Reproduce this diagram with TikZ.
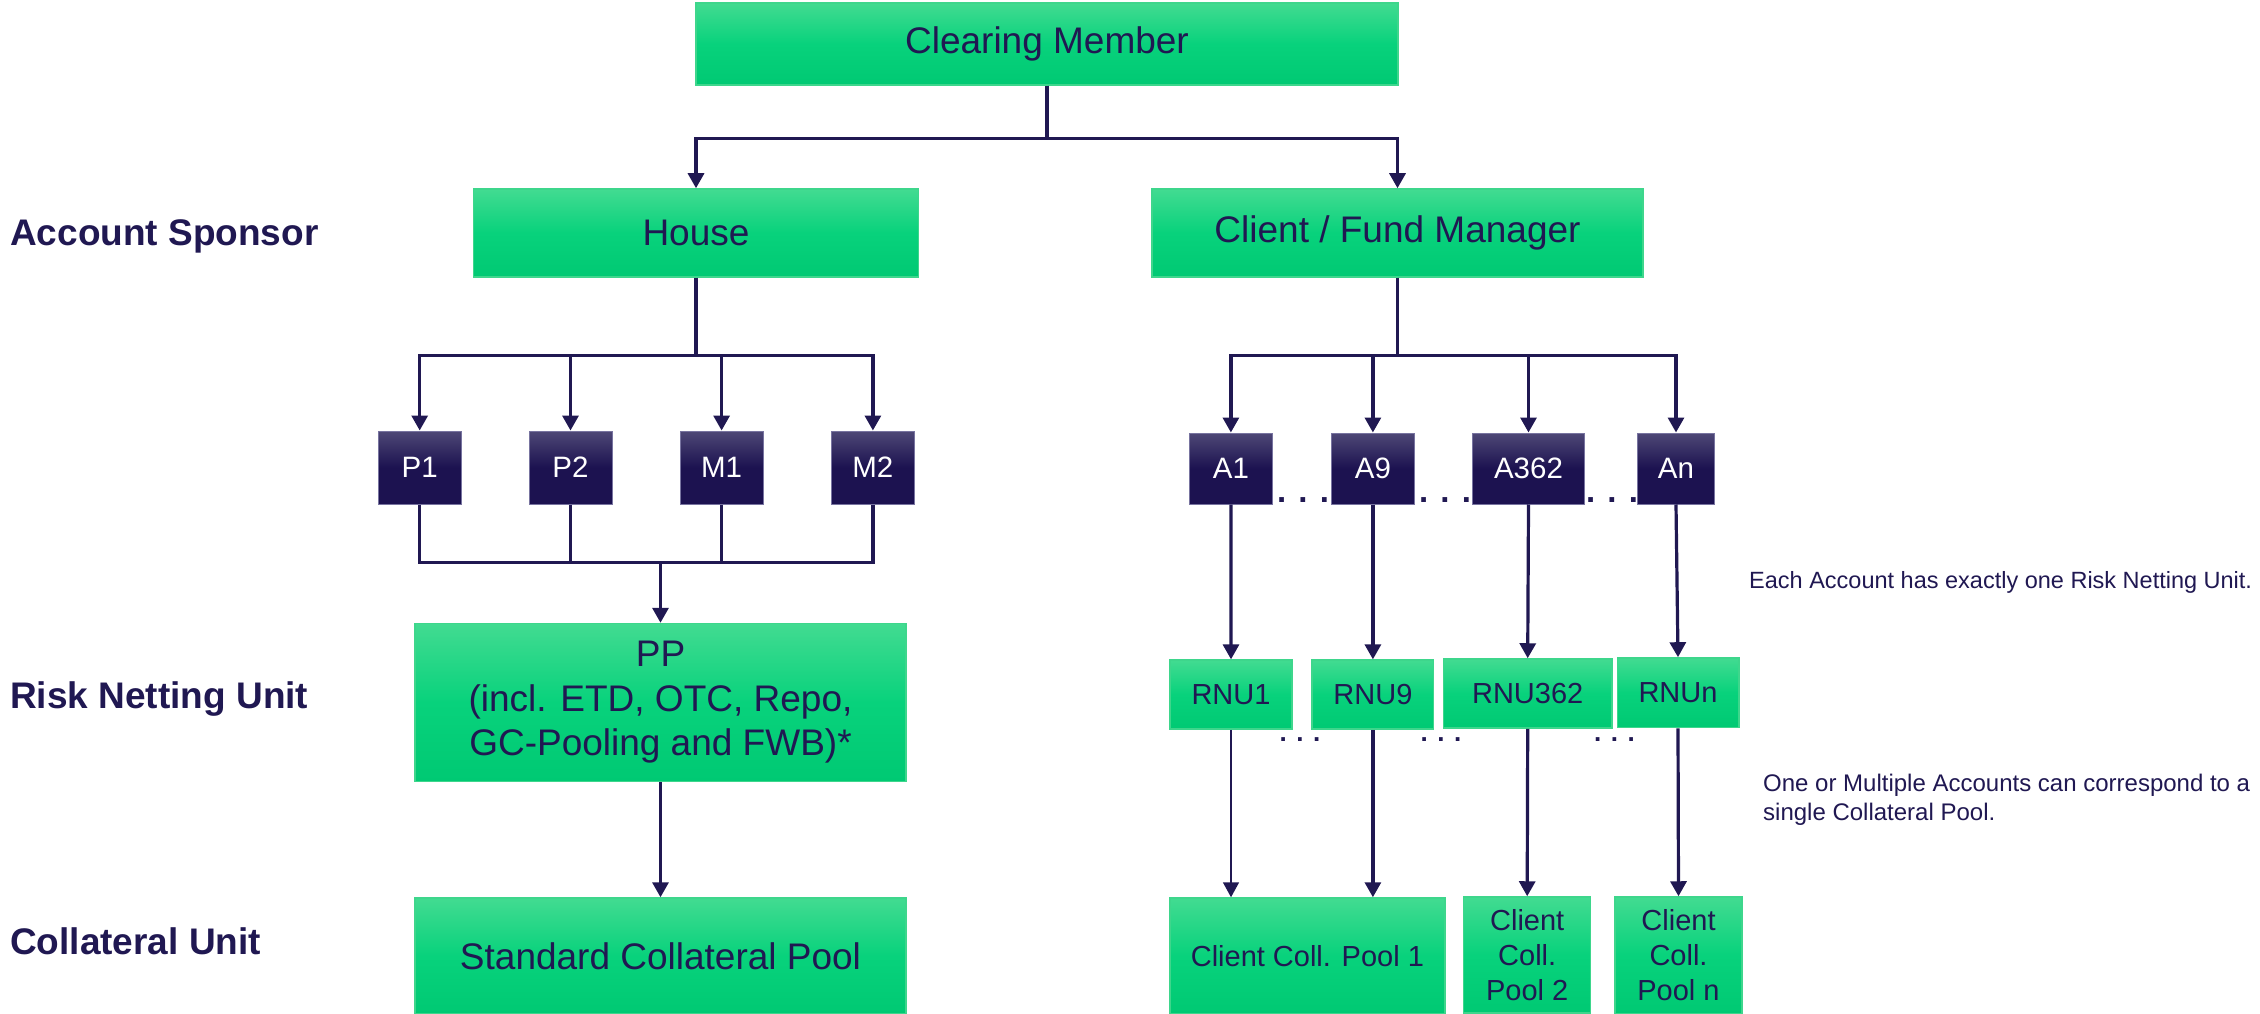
\documentclass[tikz,border=0pt]{standalone}
\usepackage{fontspec}
\setmainfont{Liberation Sans}
\usetikzlibrary{arrows.meta}
\definecolor{navy}{RGB}{32,24,82}
\definecolor{gtop}{RGB}{66,219,145}
\definecolor{gmid}{RGB}{8,210,124}
\definecolor{gbot}{RGB}{0,201,115}
\definecolor{gline}{RGB}{62,214,140}
\definecolor{ntop}{RGB}{78,72,118}
\definecolor{nbot}{RGB}{28,18,80}
\definecolor{nline}{RGB}{120,116,160}
\tikzset{
 gbox/.style={rectangle, draw=gline, line width=1.5pt, top color=gtop, bottom color=gbot, middle color=gmid, text=navy, inner sep=0pt, align=center},
 nbox/.style={rectangle, draw=nline, line width=1pt, top color=ntop, bottom color=nbot, middle color=nbot, text=white, inner sep=0pt, font=\fontsize{29.5}{35}\selectfont},
 big/.style={font=\fontsize{37}{44.5}\selectfont},
 small/.style={font=\fontsize{29}{35}\selectfont},
 lbl/.style={anchor=base west, text=navy, inner sep=0pt, font=\fontsize{37}{44}\selectfont\bfseries},
 note/.style={anchor=base west, text=navy, inner sep=0pt, align=left, font=\fontsize{24}{28.5}\selectfont},
 conn/.style={draw=navy, line width=3.2pt},
 arr/.style={conn, -{Triangle[width=16pt,length=15pt]}},
 dotsA/.style={text=navy, inner sep=0pt, font=\fontsize{33}{33}\selectfont\bfseries},
 dotsB/.style={text=navy, inner sep=0pt, font=\fontsize{26}{26}\selectfont\bfseries},
}
\begin{document}
\begin{tikzpicture}[x=1pt,y=-1pt]
\useasboundingbox[fill=white] (0,0) rectangle (2260,1014);
% top level
\node[gbox, big, minimum width=702pt, minimum height=82pt] (cm) at (1047,44) {Clearing Member};
\node[gbox, big, minimum width=445pt, minimum height=88pt] (house) at (696,233) {House};
\node[gbox, big, minimum width=491pt, minimum height=88pt] (client) at (1397.5,233) {Client / Fund Manager};
% house accounts
\node[nbox, minimum width=83pt, minimum height=73pt] (p1) at (419.7,467.5) {P1};
\node[nbox, minimum width=83pt, minimum height=73pt] (p2) at (570.5,467.5) {P2};
\node[nbox, minimum width=83pt, minimum height=73pt] (m1) at (721.6,467.5) {M1};
\node[nbox, minimum width=83pt, minimum height=73pt] (m2) at (872.9,467.5) {M2};
% client accounts
\node[nbox, minimum width=83pt, minimum height=71pt] (a1) at (1230.9,468.5) {A1};
\node[nbox, minimum width=82.5pt, minimum height=71pt] (a9) at (1372.9,468.5) {A9};
\node[nbox, minimum width=112pt, minimum height=71pt] (a362) at (1528.5,468.5) {A362};
\node[nbox, minimum width=77.6pt, minimum height=71pt] (an) at (1676,468.5) {An};
\node[dotsA] (da1) at (1303,500) {. . .};
\node[dotsA] (da2) at (1445,500) {. . .};
\node[dotsA] (da3) at (1612,500) {. . .};
% risk netting units
\node[gbox, big, minimum width=491pt, minimum height=158pt] (pp) at (660.5,702.5) {PP\\(incl. ETD, OTC, Repo,\\GC-Pooling and FWB)*};
\node[gbox, small, minimum width=122pt, minimum height=69pt] (rnu1) at (1231,694.6) {RNU1};
\node[gbox, small, minimum width=121.5pt, minimum height=69pt] (rnu9) at (1372.9,694.6) {RNU9};
\node[gbox, small, minimum width=168.4pt, minimum height=69pt] (rnu362) at (1527.7,693.5) {RNU362};
\node[gbox, small, minimum width=121.5pt, minimum height=69.7pt] (rnun) at (1678,692.8) {RNUn};
\node[dotsB] (dr1) at (1300,740) {. . .};
\node[dotsB] (dr2) at (1441,740) {. . .};
\node[dotsB] (dr3) at (1614.5,740) {. . .};
% collateral units
\node[gbox, big, minimum width=491pt, minimum height=116pt] (scp) at (660.5,956) {Standard Collateral Pool};
\node[gbox, small, minimum width=275pt, minimum height=116pt] (pool1) at (1307.4,956) {Client Coll. Pool 1};
\node[gbox, small, minimum width=127pt, minimum height=116pt] (pool2) at (1527.2,955) {Client\\Coll.\\Pool 2};
\node[gbox, small, minimum width=127pt, minimum height=117pt] (pooln) at (1678.5,955.5) {Client\\Coll.\\Pool n};
% row labels
\node[lbl] (l1) at (10,245) {Account Sponsor};
\node[lbl] (l2) at (10,708) {Risk Netting Unit};
\node[lbl] (l3) at (10,954) {Collateral Unit};
% notes
\node[note, font=\fontsize{23.5}{28.5}\selectfont] (n1) at (1749,588) {Each Account has exactly one Risk Netting Unit.};
\node[note] (n2) at (1763,820) {One or Multiple Accounts can correspond to a\\single Collateral Pool.};
% connectors
\draw[arr] (cm.south) -- ++(0,53) -| (house.north);
\draw[arr] (cm.south) -- ++(0,53) -| (client.north);
\foreach \n in {p1,p2,m1,m2} \draw[arr] (house.south) -- ++(0,78) -| (\n.north);
\draw[conn] (p1.south) -- ++(0,58) -| (m2.south);
\draw[conn] (p2.south) -- ++(0,58);
\draw[conn] (m1.south) -- ++(0,58);
\draw[arr] (p1.south) ++(0,58) -| (pp.north);
\draw[arr] (pp.south) -- (scp.north);
\foreach \n in {a1,a9,a362,an} \draw[arr] (client.south) -- ++(0,78) -| (\n.north);
\draw[arr] (a1.south) -- (rnu1.north);
\draw[arr] (a9.south) -- (rnu9.north);
\draw[arr] (a362.south) -- (rnu362.north);
\draw[arr] (an.south) -- (rnun.north);
\draw[arr, line width=1.6pt] (rnu1.south) -- (rnu1.south |- pool1.north);
\draw[arr] (rnu9.south) -- (rnu9.south |- pool1.north);
\draw[arr] (rnu362.south) -- (pool2.north);
\draw[arr] (rnun.south) -- (pooln.north);
\end{tikzpicture}
\end{document}
